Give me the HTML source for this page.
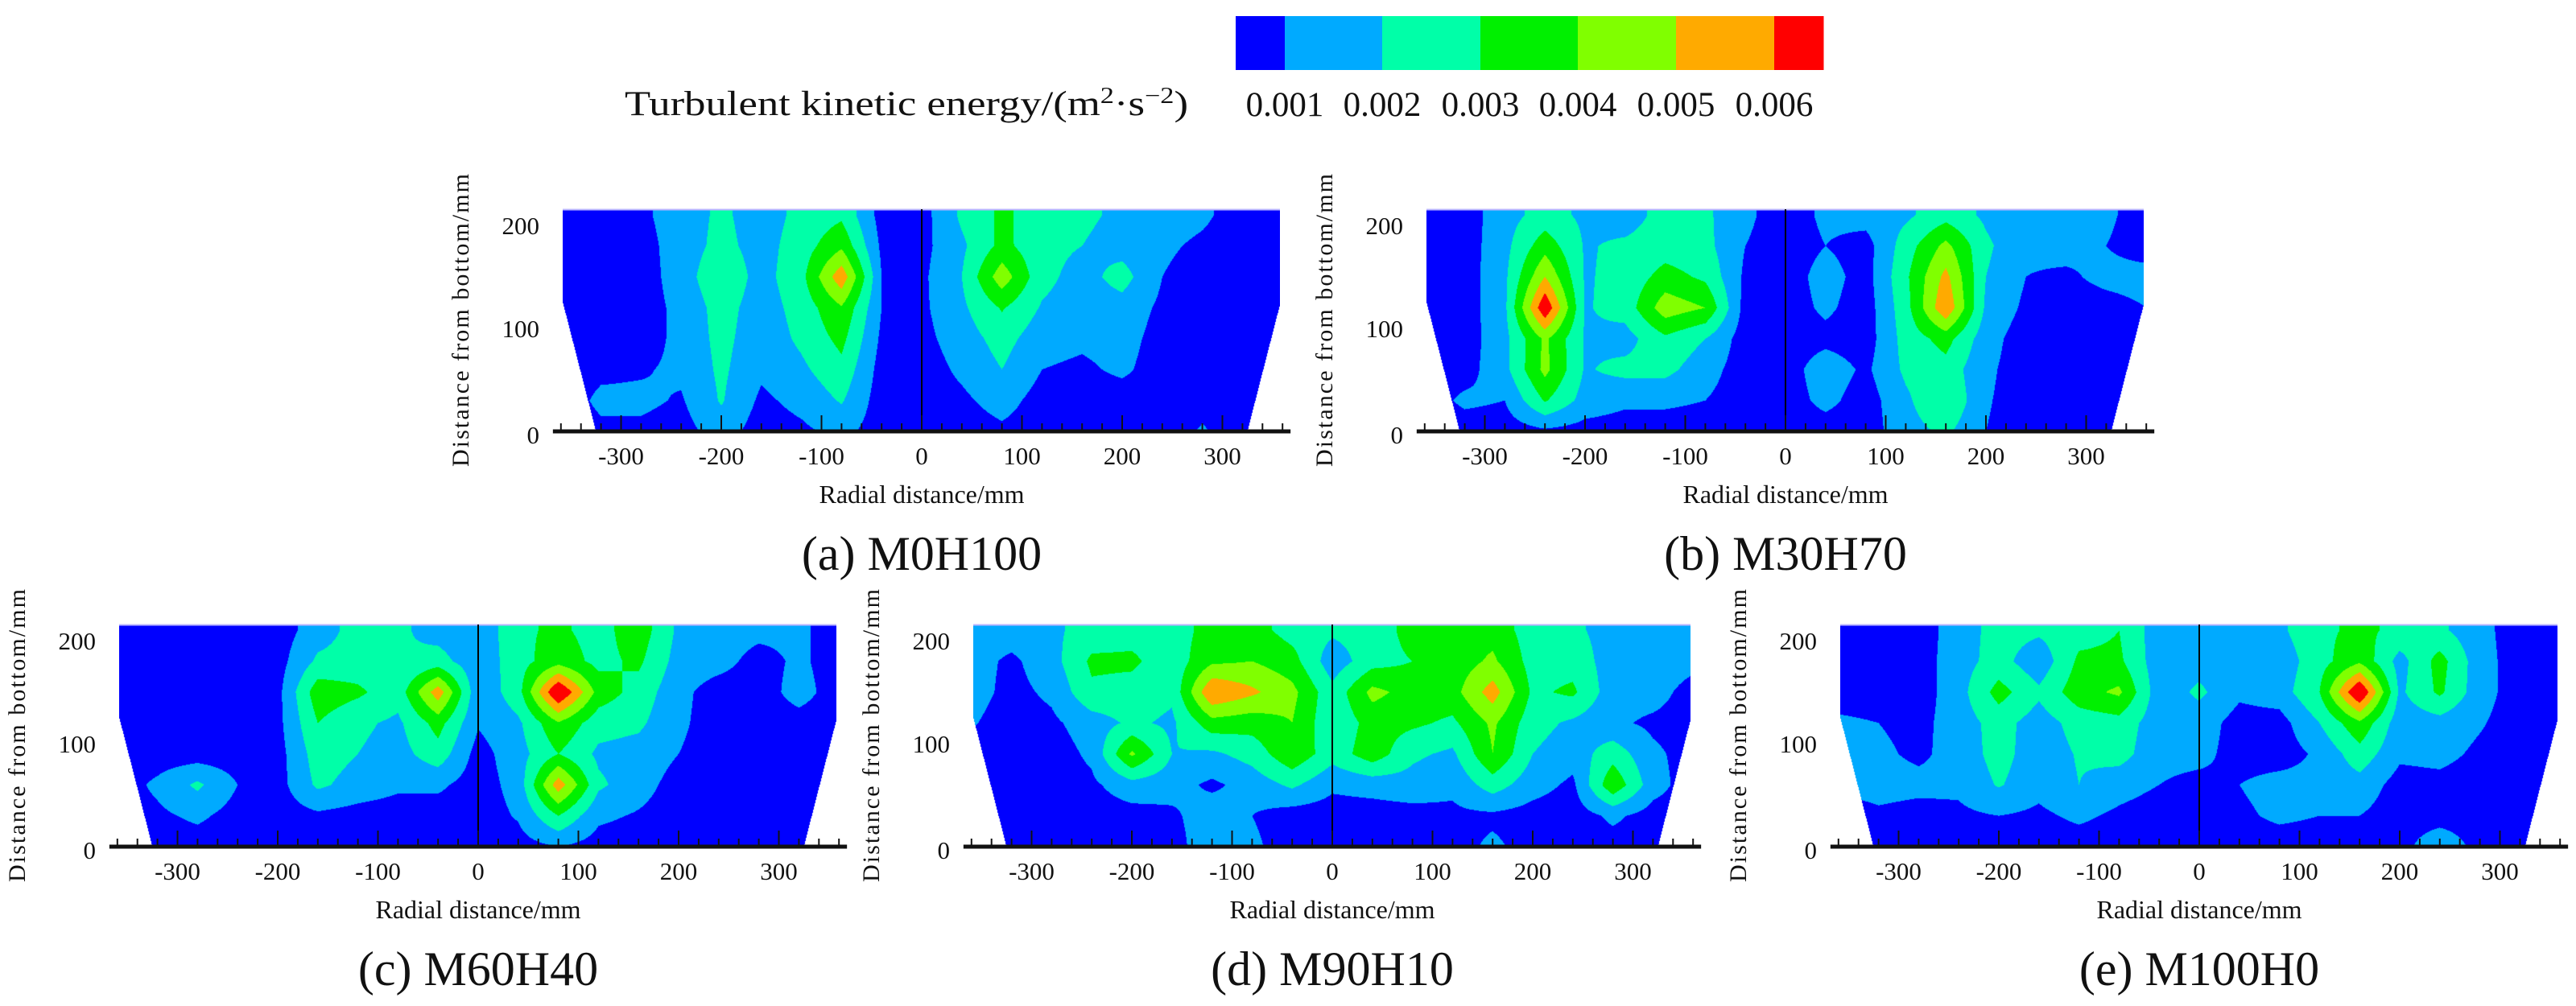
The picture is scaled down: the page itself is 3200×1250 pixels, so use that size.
<!DOCTYPE html>
<html><head><meta charset="utf-8">
<style>
html,body{margin:0;padding:0;background:#fff;}
#root{position:relative;width:3200px;height:1250px;overflow:hidden;background:#fff;}
canvas{position:absolute;}
svg{position:absolute;left:0;top:0;}
text{font-family:"Liberation Serif",serif;fill:#111;}
</style></head>
<body>
<div id="root">
<svg id="ov" width="3200" height="1250"></svg>
</div>
<script>
// ---- data ----
const levelColors = ["#0000FF","#00AAFF","#00FFA8","#00F000","#80FF00","#FFAA00","#FF0000"];
const colorbarLabels = ["0.001","0.002","0.003","0.004","0.005","0.006"];
const xCols = [-360,-320,-280,-240,-200,-160,-120,-80,-40,0,40,80,120,160,200,240,280,320,360];
const yRows = [210,180,150,120,90,60,30,0];
const xTickLabels = [-300,-200,-100,0,100,200,300];
const yTickLabels = [0,100,200];
const panelNames = ["M0H100","M30H70","M60H40","M90H10","M100H0"];
const panelLetters = ["(a)","(b)","(c)","(d)","(e)"];
const gridA = [
[0.5,0.5,0.8,1.5,2.2,1.5,2.3,2.8,0.6,0.6,2.2,3.2,2.5,2.2,1.8,1.5,1.2,0.5,0.5],
[0.5,0.5,0.6,1.5,2.3,1.6,2.5,3.8,0.8,0.7,1.8,3.3,2.3,2.0,1.6,1.2,0.8,0.5,0.5],
[0.5,0.5,0.5,1.5,2.8,1.6,2.7,5.7,1.0,0.8,2.0,4.6,2.3,1.6,2.4,1.0,0.5,0.5,0.5],
[0.5,0.5,0.5,1.3,2.4,1.5,2.4,3.9,1.0,0.8,1.8,3.1,1.9,1.5,1.6,0.8,0.5,0.5,0.5],
[0.5,0.5,0.5,1.3,2.3,1.4,2.2,3.3,0.8,0.7,1.5,2.4,1.4,1.2,1.4,0.6,0.5,0.5,0.5],
[0.5,0.8,0.9,1.2,2.2,1.2,1.8,2.7,0.6,0.5,1.2,2.0,1.0,0.8,1.2,0.5,0.5,0.5,0.5],
[0.5,1.2,1.2,0.9,2.1,0.8,1.3,2.1,0.5,0.5,0.8,1.4,0.6,0.5,0.5,0.5,0.7,0.5,0.5],
[0.5,0.8,0.8,0.6,1.5,0.5,0.8,1.3,0.5,0.5,0.5,0.8,0.5,0.5,0.5,0.5,1.1,0.5,0.5]];
const gridB = [
[0.5,0.5,1.6,2.4,1.8,1.5,2.4,2.2,1.2,0.5,1.2,1.4,1.8,2.6,1.8,1.3,1.4,1.2,0.5],
[0.5,0.5,1.7,3.6,1.9,2.2,2.5,2.3,1.0,0.5,1.0,0.6,2.5,4.3,2.2,1.2,1.4,1.0,0.5],
[0.5,0.5,1.8,5.0,1.9,2.3,3.4,2.8,0.8,0.5,1.4,0.6,2.8,5.3,2.0,1.0,0.8,1.3,1.4],
[0.5,0.5,1.8,6.9,1.9,2.4,4.6,4.0,0.6,0.5,1.2,0.5,2.6,5.9,1.8,0.8,0.5,0.6,1.0],
[0.5,0.5,1.7,4.2,1.9,1.6,2.8,2.0,0.5,0.5,0.7,0.5,2.4,3.4,1.4,0.5,0.5,0.5,0.5],
[0.5,0.6,1.7,4.3,1.9,2.3,2.3,1.4,0.5,0.5,1.6,0.8,2.2,2.6,1.2,0.5,0.5,0.5,0.5],
[0.5,1.2,1.0,3.1,1.6,1.2,1.2,1.0,0.5,0.5,1.3,0.5,1.8,3.0,1.1,0.5,0.5,0.5,0.5],
[0.5,0.5,0.5,0.8,0.6,0.5,0.5,0.5,0.5,0.5,0.5,0.5,1.6,2.2,1.0,0.5,0.5,0.5,0.5]];
const gridC = [
[0.5,0.5,0.5,0.5,0.5,1.5,2.4,2.2,1.6,1.2,2.8,3.2,2.6,3.6,1.8,1.5,1.3,1.2,0.5],
[0.5,0.5,0.5,0.5,0.6,2.2,2.4,2.0,2.4,1.3,2.6,3.6,2.7,3.2,1.6,1.4,0.6,1.2,0.5],
[0.5,0.5,0.5,0.5,0.7,3.6,3.2,2.4,5.6,1.2,2.6,7.2,3.6,2.6,1.3,0.5,0.5,1.4,0.5],
[0.5,0.5,0.5,0.5,0.7,3.0,2.2,1.8,3.4,1.1,1.8,3.9,2.4,2.2,1.2,0.5,0.5,0.6,0.5],
[0.5,0.5,0.5,0.5,0.6,2.5,2.0,1.6,2.6,0.6,1.6,3.0,1.8,1.6,1.0,0.5,0.5,0.5,0.5],
[0.5,1.2,2.2,1.0,0.6,2.2,1.6,1.2,1.2,0.5,1.4,5.6,2.2,1.4,0.6,0.5,0.5,0.5,0.5],
[0.5,0.8,1.2,0.6,0.5,0.8,0.6,0.5,0.5,0.5,1.1,3.0,1.2,0.9,0.5,0.5,0.5,0.5,0.5],
[0.5,0.5,0.5,0.5,0.5,0.5,0.5,0.5,0.5,0.5,0.6,1.0,0.6,0.5,0.5,0.5,0.5,0.5,0.5]];
const gridD = [
[1.5,1.5,1.8,2.4,2.6,2.5,3.4,3.4,2.6,2.2,2.4,3.4,3.6,3.6,2.5,2.2,1.6,1.8,1.3],
[1.4,0.8,1.6,3.2,3.2,2.4,3.8,4.0,3.4,1.4,2.6,3.0,3.4,4.2,2.6,2.6,1.5,1.6,1.3],
[1.4,0.7,1.2,2.8,2.6,2.2,6.0,5.2,4.3,2.3,4.3,3.6,3.6,5.5,2.8,3.2,1.4,1.4,0.6],
[1.1,0.5,0.8,1.5,2.2,1.8,3.6,3.4,4.0,2.2,3.4,3.2,2.8,4.2,2.4,1.8,1.2,0.8,0.6],
[0.5,0.5,0.5,1.2,4.2,2.0,1.8,2.4,3.8,2.4,3.6,2.2,1.8,4.0,2.0,1.4,2.6,1.2,0.6],
[0.5,0.5,0.5,0.8,1.6,1.4,0.8,1.4,2.2,1.2,1.4,1.6,1.2,2.5,1.4,0.8,3.8,1.4,0.5],
[0.5,0.5,0.5,0.5,0.6,0.8,1.6,1.0,0.5,0.5,0.5,0.6,0.8,0.8,0.6,0.5,1.2,0.6,0.5],
[0.5,0.5,0.5,0.5,0.5,0.5,1.8,1.2,0.5,0.5,0.5,0.5,0.6,1.2,0.6,0.5,0.6,0.5,0.5]];
const gridE = [
[0.5,0.5,0.5,1.5,2.4,2.2,2.6,3.0,1.4,1.3,1.4,1.8,2.8,3.2,2.8,2.2,1.3,0.5,0.5],
[0.5,0.5,0.5,1.6,2.4,1.3,3.2,3.2,1.4,1.6,1.3,1.4,2.6,3.8,1.6,3.4,1.4,0.5,0.5],
[0.5,0.5,0.5,1.6,3.4,2.2,3.6,4.2,1.4,2.2,1.2,1.5,3.0,7.2,1.8,3.2,1.4,0.5,0.5],
[1.2,1.0,0.7,1.5,2.4,1.5,2.4,2.6,1.4,1.5,0.6,0.6,2.0,3.8,1.4,1.6,1.1,0.5,0.5],
[1.3,1.2,0.8,1.4,2.4,1.4,2.1,2.4,1.3,1.3,0.6,0.5,1.2,2.6,1.2,1.3,0.8,0.5,0.5],
[1.2,1.4,1.3,1.2,2.1,1.3,2.0,1.4,1.0,0.7,1.0,1.4,1.3,1.6,0.6,0.7,0.5,0.5,0.5],
[0.5,0.8,0.6,0.8,1.0,0.8,1.2,0.8,0.5,0.5,0.8,1.2,1.0,1.0,0.5,0.5,0.5,0.5,0.5],
[0.5,0.5,0.5,0.5,0.5,0.5,0.5,0.5,0.5,0.5,0.5,0.5,0.5,0.5,0.6,1.8,0.6,0.5,0.5]];
const grids = [gridA,gridB,gridC,gridD,gridE];

// ---- layout (not data) ----
const layout = [
  {cx:1145, ay:536}, {cx:2218, ay:536},
  {cx:594, ay:1052}, {cx:1655, ay:1052}, {cx:2732, ay:1052}];
const SX = 1.245, SY = 1.28, XMAX = 358, YTOP = 216;
const NS = "http://www.w3.org/2000/svg";
const svg = document.getElementById('ov');
const root = document.getElementById('root');
function mk(tag, attrs, parent){
  const e = document.createElementNS(NS, tag);
  for (const k in attrs) e.setAttribute(k, attrs[k]);
  (parent||svg).appendChild(e); return e;
}
function hexToRgb(h){return [parseInt(h.substr(1,2),16),parseInt(h.substr(3,2),16),parseInt(h.substr(5,2),16)];}
const rgbLevels = levelColors.map(hexToRgb);

function sample(grid, x, y){
  let fx = (x - xCols[0]) / (xCols[1]-xCols[0]);
  let fr = (yRows[0] - y) / (yRows[0]-yRows[1]);
  fx = Math.max(0, Math.min(xCols.length-1.0001, fx));
  fr = Math.max(0, Math.min(yRows.length-1.0001, fr));
  const i = Math.floor(fx), j = Math.floor(fr), tx = fx-i, ty = fr-j;
  const a = grid[j][i], b = grid[j][i+1], c = grid[j+1][i], d = grid[j+1][i+1];
  return (a*(1-tx)+b*tx)*(1-ty) + (c*(1-tx)+d*tx)*ty;
}
function inside(x, y){
  if (y > YTOP) return false;
  const lim = y >= 125 ? XMAX : 325 + (XMAX-325)*y/125;
  return Math.abs(x) <= lim;
}

// colorbar
const cbX = [1535,1596,1717,1839,1960,2082,2204,2265];
const cbG = mk('g', {});


levelColors.forEach((c,i)=>{
  const r = mk('rect', {x:cbX[i], y:20, width:cbX[i+1]-cbX[i]+0.5, height:67, fill:c}, cbG);
  
  
});
colorbarLabels.forEach((t,i)=>{
  const e = mk('text', {x:cbX[i+1], y:144, 'font-size':43, 'text-anchor':'middle'}, cbG);
  e.textContent = t;
  
  
});
const cbt = mk('text', {x:776, y:143, 'font-size':43, textLength:700, lengthAdjust:'spacingAndGlyphs'});
cbt.innerHTML = 'Turbulent kinetic energy/(m<tspan baseline-shift="super" font-size="28">2</tspan>·s<tspan baseline-shift="super" font-size="28">−2</tspan>)';



// panels
layout.forEach((L,p)=>{
  const grid = grids[p];
  const left = Math.round(L.cx - XMAX*SX), W = Math.round(2*XMAX*SX);
  const top = Math.round(L.ay - YTOP*SY), H = L.ay - top;
  const cv = document.createElement('canvas');
  cv.width = W; cv.height = H;
  cv.style.left = left+'px'; cv.style.top = top+'px';
  
  
  root.insertBefore(cv, svg);
  const ctx = cv.getContext('2d');
  const img = ctx.createImageData(W, H);
  for (let py=0; py<H; py++){
    const y = (L.ay - (top+py+0.5))/SY;
    for (let px=0; px<W; px++){
      const x = (left+px+0.5 - L.cx)/SX;
      const k = (py*W+px)*4;
      if (!inside(x,y)){ img.data[k+3]=0; continue; }
      const v = sample(grid, x, y);
      const lv = Math.max(0, Math.min(6, Math.floor(v)));
      const c = rgbLevels[lv];
      img.data[k]=c[0]; img.data[k+1]=c[1]; img.data[k+2]=c[2]; img.data[k+3]=255;
    }
  }
  ctx.putImageData(img,0,0);

  const g = mk('g', {});
  
  
  const te = mk('line', {x1:left, x2:left+W, y1:top+0.5, y2:top+0.5, stroke:'#b9b4ff', 'stroke-width':2}, g);
  
  
  const zl = mk('line', {x1:L.cx, x2:L.cx, y1:top, y2:L.ay, stroke:'#000', 'stroke-width':2}, g);
  
  
  const ax = mk('line', {x1:L.cx-368*SX, x2:L.cx+368*SX, y1:L.ay, y2:L.ay, stroke:'#111', 'stroke-width':5}, g);
  
  
  for (let m=-360; m<=360; m+=20){
    const major = (m % 100 === 0) && Math.abs(m) <= 300;
    const t = mk('line', {x1:L.cx+m*SX, x2:L.cx+m*SX, y1:L.ay, y2:L.ay-(major?20:10), stroke:'#111', 'stroke-width':2}, g);
    
    
  }
  xTickLabels.forEach(v=>{
    const t = mk('text', {x:L.cx+v*SX, y:L.ay+41, 'font-size':31, 'text-anchor':'middle'}, g);
    t.textContent = String(v);
    
    
  });
  yTickLabels.forEach(v=>{
    const t = mk('text', {x:left-29, y:L.ay - v*SY + 11 + (v===0?4:0), 'font-size':31, 'text-anchor':'end'}, g);
    t.textContent = String(v);
    
    
  });
  const yt = mk('text', {x:0, y:0, 'font-size':30, 'text-anchor':'middle', textLength:364, lengthAdjust:'spacing',
    transform:'translate('+(left-117)+','+(L.ay-138)+') rotate(-90)'}, g);
  yt.textContent = 'Distance from bottom/mm';
  
  
  const xt = mk('text', {x:L.cx, y:L.ay+89, 'font-size':32, 'text-anchor':'middle'}, g);
  xt.textContent = 'Radial distance/mm';
  
  
  const cap = mk('text', {x:L.cx, y:L.ay+172, 'font-size':60, 'text-anchor':'middle'}, g);
  cap.textContent = panelLetters[p]+' '+panelNames[p];
  
  
});
</script>
</body></html>
